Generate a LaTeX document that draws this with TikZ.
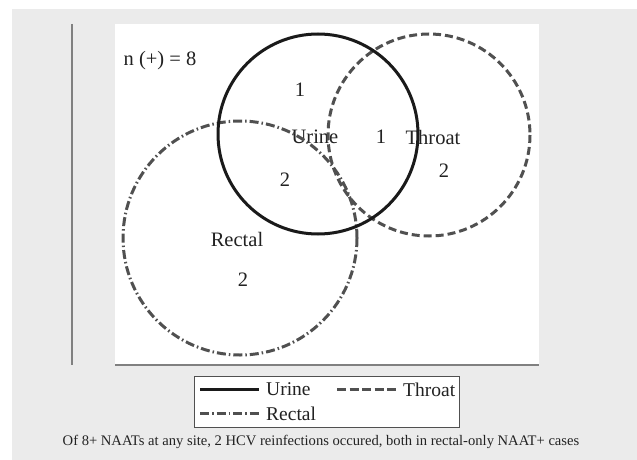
\documentclass[tikz,border=0pt]{standalone}
\usepackage{fontspec}
\setmainfont{Liberation Serif}
\definecolor{bggray}{HTML}{EBEBEB}
\definecolor{axgray}{HTML}{808080}
\definecolor{lgray}{HTML}{505050}
\definecolor{dkline}{HTML}{1A1A1A}
\definecolor{txtc}{HTML}{222222}
\begin{document}
\begin{tikzpicture}[x=1pt,y=-1pt,
  lbl/.style={inner sep=0pt, text=txtc, font=\fontsize{20.5}{24}\selectfont},
  leg/.style={inner sep=0pt, anchor=west, text=txtc, font=\fontsize{19.5}{22}\selectfont},
  captxt/.style={inner sep=0pt, text=txtc, font=\fontsize{14.6}{17}\selectfont},
  urine/.style={draw=dkline, line width=3pt},
  throat/.style={draw=lgray, line width=3pt, dash pattern=on 8pt off 4pt},
  rectal/.style={draw=lgray, line width=3pt, dash pattern=on 9pt off 3pt on 1.5pt off 3pt},
  axis/.style={draw=axgray, line width=1.5pt}]
\useasboundingbox (0,0) rectangle (637,460);
\fill[white] (0,0) rectangle (637,460);
\fill[bggray] (12,9) rectangle (637,460);
\fill[white] (115,24) rectangle (539,364);
\coordinate (ya) at (72,24);
\coordinate (yb) at (72,365);
\coordinate (xa) at (115,365);
\coordinate (xb) at (539,365);
\draw[axis] (ya) -- (yb);
\draw[axis] (xa) -- (xb);
% labels
\node[lbl] (n) at (160,61) {n (+) = 8};
\node[lbl] (u1) at (300,90) {1};
\node[lbl] (ul) at (315,137) {Urine};
\node[lbl] (ur2) at (285,180) {2};
\node[lbl] (ut1) at (381,137) {1};
\node[lbl] (tl) at (433,137) {Throat};
\node[lbl] (t2) at (444,171) {2};
\node[lbl] (rl) at (237,239) {Rectal};
\node[lbl] (r2) at (243,280) {2};
% circles
\draw[rectal] (240,238) circle (117);
\draw[throat] (429,135) circle (101);
\draw[urine] (318,134) circle (100);
% legend
\draw[lgray, line width=1pt, fill=white] (194,376) rectangle (459,427);
\coordinate (lu1) at (200,389); \coordinate (lu2) at (259,389);
\coordinate (lt1) at (337,389); \coordinate (lt2) at (397,389);
\coordinate (lr1) at (200,413); \coordinate (lr2) at (259,413);
\draw[urine] (lu1) -- (lu2);
\draw[throat, dash pattern=on 9pt off 3.5pt] (lt1) -- (lt2);
\draw[rectal] (lr1) -- (lr2);
\node[leg] (lut) at (266,389.5) {Urine};
\node[leg] (ltt) at (403,389.5) {Throat};
\node[leg] (lrt) at (266,413.5) {Rectal};
\node[captxt] (c) at (321,442) {Of 8+ NAATs at any site, 2 HCV reinfections occured, both in rectal-only NAAT+ cases};
\end{tikzpicture}
\end{document}
